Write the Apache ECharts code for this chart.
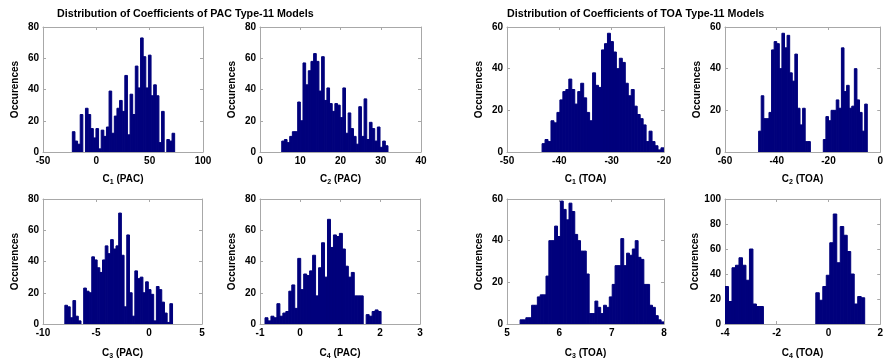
<!DOCTYPE html>
<html><head><meta charset="utf-8">
<script src="https://cdn.jsdelivr.net/npm/echarts@6/dist/echarts.min.js"></script>
<style>html,body{margin:0;padding:0;background:#fff}#c{width:886px;height:362px}</style>
</head><body><div id="c"></div>
<script>
// ---------- DATA ----------
// Histogram bins: first bin left edge, bin width, counts per bin
const c1PacStart = -22.5, c1PacWidth = 2.46;
const c1PacCounts = [13,7,5,24,0,28,24,15,9,15,2,14,10,16,39,12,23,28,33,26,49,11,37,24,55,41,73,61,41,62,36,43,36,6,26,0,8,7,12];
const c2PacStart = 5.4, c2PacWidth = 0.66;
const c2PacCounts = [7,8,6,10,13,13,32,20,57,43,52,58,63,58,39,61,33,41,31,26,31,30,22,41,12,25,15,10,5,29,10,34,8,19,15,7,16,3,7,4];
const c3PacStart = -7.94, c3PacWidth = 0.254;
const c3PacCounts = [12,11,4,15,5,2,0,23,21,20,43,41,36,33,41,50,45,54,48,50,71,44,11,57,20,5,34,29,30,20,27,22,19,2,24,22,14,7,1,13];
const c4PacStart = -0.875, c4PacWidth = 0.0744;
const c4PacCounts = [4,2,5,4,13,5,7,8,21,25,10,42,22,32,31,34,44,18,36,52,30,67,49,57,56,58,48,37,30,33,18,18,18,0,6,5,8,9,8];
const c1ToaStart = -43.3, c1ToaWidth = 0.568;
const c1ToaCounts = [4,6,5,15,14,19,25,29,30,35,30,23,29,33,26,19,15,38,32,31,49,52,57,53,48,40,45,43,33,27,30,22,18,16,13,5,10,5,3,1,2];
const c2ToaStart = -47, c2ToaWidth = 1.0;
const c2ToaCounts = [10,27,16,16,19,49,53,52,40,57,50,56,38,34,47,21,13,21,5,5,0,0,0,0,0,6,17,15,20,20,25,21,50,29,32,21,22,40,25,19,10,23];
const c3ToaStart = 5.25, c3ToaWidth = 0.055;
const c3ToaCounts = [2,2,3,3,9,9,13,14,14,23,40,40,47,42,59,55,50,58,54,43,40,35,35,24,5,5,11,8,5,9,8,13,19,28,28,41,28,34,33,36,40,32,31,19,19,9,8,4,2,1];
const c4ToaStart = -4, c4ToaWidth = 0.135;
const c4ToaCounts = [30,18,45,47,53,47,35,60,16,14,14,0,0,0,0,0,0,0,0,0,0,0,0,0,0,0,25,19,30,39,65,88,49,78,71,58,40,16,22,21];

// Tick labels
const c1PacXTicks = [-50,0,50,100], c2PacXTicks = [0,10,20,30,40];
const c3PacXTicks = [-10,-5,0,5],   c4PacXTicks = [-1,0,1,2,3];
const c1ToaXTicks = [-50,-40,-30,-20], c2ToaXTicks = [-60,-40,-20,0];
const c3ToaXTicks = [5,6,7,8],      c4ToaXTicks = [-4,-2,0,2];
const yTicks80 = [0,20,40,60,80], yTicks60 = [0,20,40,60], yTicks100 = [0,20,40,60,80,100];

// Axis label texts
const titles = ['Distribution of Coefficients of PAC Type-11 Models','Distribution of Coefficients of TOA Type-11 Models'];
const yName = 'Occurences';

// ---------- LAYOUT / STYLE ----------
const F = '"Liberation Sans", Arial, Helvetica, sans-serif';
const BAR = '#00007c', FRAME = '#a8a8a8';
const panels = [
  {s:c1PacStart,w:c1PacWidth,c:c1PacCounts,xt:c1PacXTicks,yt:yTicks80,sub:'1',src:'PAC',g:{left:43,top:27,width:160,height:125},gap:21},
  {s:c2PacStart,w:c2PacWidth,c:c2PacCounts,xt:c2PacXTicks,yt:yTicks80,sub:'2',src:'PAC',g:{left:260,top:27,width:161,height:125},gap:21},
  {s:c1ToaStart,w:c1ToaWidth,c:c1ToaCounts,xt:c1ToaXTicks,yt:yTicks60,sub:'1',src:'TOA',g:{left:507,top:27,width:157,height:125},gap:21},
  {s:c2ToaStart,w:c2ToaWidth,c:c2ToaCounts,xt:c2ToaXTicks,yt:yTicks60,sub:'2',src:'TOA',g:{left:725,top:27,width:158,height:125},gap:21},
  {s:c3PacStart,w:c3PacWidth,c:c3PacCounts,xt:c3PacXTicks,yt:yTicks80,sub:'3',src:'PAC',g:{left:43,top:199,width:159,height:125},gap:23},
  {s:c4PacStart,w:c4PacWidth,c:c4PacCounts,xt:c4PacXTicks,yt:yTicks80,sub:'4',src:'PAC',g:{left:260,top:199,width:160,height:125},gap:23},
  {s:c3ToaStart,w:c3ToaWidth,c:c3ToaCounts,xt:c3ToaXTicks,yt:yTicks60,sub:'3',src:'TOA',g:{left:507,top:199,width:157,height:125},gap:23},
  {s:c4ToaStart,w:c4ToaWidth,c:c4ToaCounts,xt:c4ToaXTicks,yt:yTicks100,sub:'4',src:'TOA',g:{left:725,top:199,width:158,height:125},gap:23}
];

const lbl = {color:'#000',fontWeight:'bold',fontSize:10,fontFamily:F};
const grids=[], xAxes=[], yAxes=[], series=[];
panels.forEach((p,i)=>{
  grids.push(Object.assign({containLabel:false}, p.g));
  const xmin=p.xt[0], xmax=p.xt[p.xt.length-1], xint=p.xt[1]-p.xt[0];
  const ymin=p.yt[0], ymax=p.yt[p.yt.length-1], yint=p.yt[1]-p.yt[0];
  const common = {axisLine:{show:true,onZero:false,lineStyle:{color:FRAME,width:1}},
                  axisTick:{show:true,inside:true,length:3,lineStyle:{color:FRAME}},
                  splitLine:{show:false}};
  xAxes.push(Object.assign({type:'value',gridIndex:i,min:xmin,max:xmax,interval:xint,position:'bottom',
    name:'{m|C}{s|'+p.sub+'}{m| ('+p.src+')}',nameLocation:'middle',nameGap:p.gap,
    nameTextStyle:{rich:{m:Object.assign({},lbl),s:Object.assign({},lbl,{fontSize:7,padding:[6,0,0,0]})}},
    axisLabel:Object.assign({margin:4,showMinLabel:true,showMaxLabel:true},lbl)},common));
  yAxes.push(Object.assign({type:'value',gridIndex:i,min:ymin,max:ymax,interval:yint,position:'left',
    name:yName,nameLocation:'middle',nameGap:23,nameTextStyle:Object.assign({},lbl),
    axisLabel:Object.assign({margin:4,showMinLabel:true,showMaxLabel:true},lbl)},common));
  const data = p.c.map((v,k)=>[p.s+k*p.w, p.s+(k+1)*p.w, v]);
  series.push({type:'custom',xAxisIndex:i,yAxisIndex:i,clip:true,data:data,encode:{x:[0,1],y:2},
    renderItem:(params,api)=>{
      if (!(api.value(2) > 0)) return null;
      const a=api.coord([api.value(0),api.value(2)]), b=api.coord([api.value(1),0]);
      return {type:'rect',shape:{x:a[0],y:a[1],width:b[0]-a[0],height:b[1]-a[1]},
        style:{fill:BAR,stroke:BAR,lineWidth:1}};
    }});
});
// mirrored box axes (top / right) with inward ticks
panels.forEach((p,i)=>{
  const xint=p.xt[1]-p.xt[0], yint=p.yt[1]-p.yt[0];
  xAxes.push({type:'value',gridIndex:i,position:'top',min:p.xt[0],max:p.xt[p.xt.length-1],interval:xint,
    axisLine:{show:true,onZero:false,lineStyle:{color:FRAME}},axisTick:{show:true,inside:true,length:3,lineStyle:{color:FRAME}},
    axisLabel:{show:false},splitLine:{show:false}});
  yAxes.push({type:'value',gridIndex:i,position:'right',min:p.yt[0],max:p.yt[p.yt.length-1],interval:yint,
    axisLine:{show:true,onZero:false,lineStyle:{color:FRAME}},axisTick:{show:true,inside:true,length:3,lineStyle:{color:FRAME}},
    axisLabel:{show:false},splitLine:{show:false}});
});

const chart = echarts.init(document.getElementById('c'),null,{renderer:'canvas'});
chart.setOption({
  animation:false,
  backgroundColor:'#fff',
  title:[
    {text:titles[0],left:57,top:9,padding:0,textStyle:Object.assign({},lbl,{fontSize:10.7})},
    {text:titles[1],left:507,top:9,padding:0,textStyle:Object.assign({},lbl,{fontSize:10.7})}
  ],
  grid:grids, xAxis:xAxes, yAxis:yAxes, series:series
});
</script></body></html>
